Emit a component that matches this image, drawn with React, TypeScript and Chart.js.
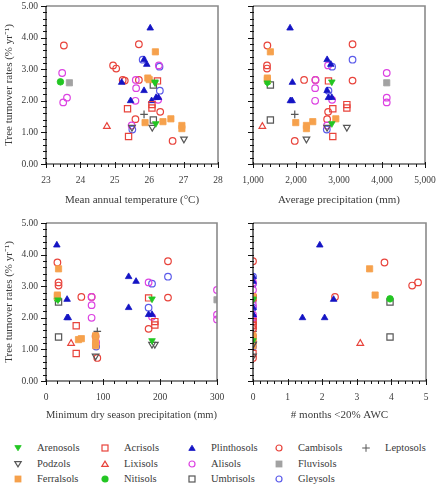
import { useEffect, useRef } from "react";
import { Chart, registerables } from "chart.js";

Chart.register(...registerables);

// Soil groups, in legend order (read down each legend column)
const SOIL_TYPES = [
  "Arenosols", "Podzols", "Ferralsols",
  "Acrisols", "Lixisols", "Nitisols",
  "Plinthosols", "Alisols", "Umbrisols",
  "Cambisols", "Fluvisols", "Gleysols",
  "Leptosols",
];

// One entry per plot: soil group, turnover rate and the four site descriptors
const siteSoil = [
  "Arenosols", "Arenosols", "Arenosols",
  "Podzols", "Podzols", "Podzols",
  "Ferralsols", "Ferralsols", "Ferralsols", "Ferralsols", "Ferralsols", "Ferralsols", "Ferralsols", "Ferralsols",
  "Acrisols", "Acrisols", "Acrisols", "Acrisols", "Acrisols",
  "Lixisols",
  "Nitisols",
  "Plinthosols", "Plinthosols", "Plinthosols", "Plinthosols", "Plinthosols", "Plinthosols", "Plinthosols", "Plinthosols", "Plinthosols",
  "Alisols", "Alisols", "Alisols", "Alisols", "Alisols", "Alisols", "Alisols", "Alisols", "Alisols",
  "Umbrisols", "Umbrisols",
  "Cambisols", "Cambisols", "Cambisols", "Cambisols", "Cambisols", "Cambisols", "Cambisols", "Cambisols", "Cambisols", "Cambisols",
  "Fluvisols",
  "Gleysols", "Gleysols", "Gleysols", "Gleysols",
  "Leptosols",
];

const turnoverRate = [
  2.60, 1.28, 2.57,
  1.16, 0.79, 1.16,
  3.55, 2.72, 2.67, 1.31, 1.34, 1.43, 1.22, 1.12,
  1.75, 0.87, 1.88, 1.77, 2.63,
  1.19,
  2.60,
  4.30, 3.30, 3.15, 2.58, 2.32, 2.00, 2.00, 2.10, 2.10,
  2.88, 2.10, 1.95, 2.40, 2.00, 3.12, 2.03, 1.22, 2.66,
  2.50, 1.39,
  3.75, 3.12, 3.02, 3.79, 2.66, 2.64, 2.66, 1.65, 1.42, 0.73,
  2.57,
  3.30, 3.08, 2.32, 1.09,
  1.57,
];

const meanAnnualTemp = [
  26.17, 26.19, 26.17,
  26.09, 27.01, 25.50,
  26.18, 25.96, 26.00, 25.88, 26.40, 26.63, 26.95, 26.95,
  25.37, 25.40, 26.08, 26.08, 26.24,
  24.77,
  23.42,
  26.03, 25.85, 25.93, 25.20, 25.85, 25.46, 26.07, 26.20, 26.27,
  23.47, 23.61, 23.50, 25.62, 25.60, 26.28, 26.26, 25.49, 25.61,
  26.12, 26.12,
  23.52, 24.95, 25.04, 25.70, 25.23, 25.29, 25.70, 26.32, 25.60, 26.68,
  23.68,
  25.81, 26.30, 26.31, 25.51,
  25.85,
];

const averagePrecip = [
  2833, 2833, 1334,
  3183, 2243, 2724,
  1404, 1334, 1334, 1994, 2390, 2926, 2243, 2243,
  2856, 2856, 3183, 3183, 2755,
  1217,
  1340,
  1862, 2724, 2810, 1916, 2724, 1870, 1909, 2755, 2833,
  4110, 4110, 4110, 2445, 2445, 2745, 2840, 2724, 2452,
  1404, 1404,
  1334, 1326, 1326, 3315, 2188, 3315, 2452, 2747, 2724, 1971,
  4110,
  3315, 2840, 2755, 2716,
  1971,
];

const minDryPrecip = [
  186, 186, 21,
  191, 87, 186,
  22, 20, 20, 57, 62, 87, 87, 87,
  53, 53, 191, 191, 180,
  44,
  20,
  19, 145, 158, 37, 145, 37, 39, 180, 186,
  300, 300, 300, 80, 80, 180, 186, 88, 80,
  22, 22,
  20, 22, 22, 214, 62, 214, 80, 180, 87, 90,
  300,
  214, 186, 180, 88,
  90,
];

const monthsLowAwc = [
  0, 0, 0,
  0, 0, 0,
  3.37, 3.53, 0, 0, 0, 0, 0, 0,
  0, 0, 0, 0, 0,
  3.10,
  3.96,
  1.93, 0, 0, 2.33, 0, 1.43, 2.07, 0, 0,
  0, 0, 0, 0, 0, 0, 0, 0, 0,
  3.96, 3.96,
  3.80, 4.77, 4.60, 0, 2.37, 0, 0, 0, 0, 0,
  0,
  0, 0, 0, 0,
  0,
];

// Axis ticks
const rateTicks = [0, 1, 2, 3, 4, 5];
const tempTicks = [23, 24, 25, 26, 27, 28];
const precipTicks = [1000, 2000, 3000, 4000, 5000];
const dryTicks = [0, 100, 200, 300];
const monthTicks = [0, 1, 2, 3, 4, 5];

const SERIF = "'Liberation Serif', 'Times New Roman', serif";
const TEXT = "#3a3a3a";

const RED = "#e8433b";
const MAGENTA = "#dc42e2";
const VIOLET = "#5b5bea";
const BLUE = "#1414c4";
const ORANGE = "#f6a14c";
const GREEN = "#22c622";
const LIGHT_GREY = "#a2a2a2";
const DARK_GREY = "#575757";

type Shape = "circle" | "rect" | "triangle" | "cross";
type MarkerStyle = { color: string; shape: Shape; filled: boolean; down?: boolean };

const soilStyle: Record<string, MarkerStyle> = {
  Arenosols: { color: GREEN, shape: "triangle", filled: true, down: true },
  Podzols: { color: DARK_GREY, shape: "triangle", filled: false, down: true },
  Ferralsols: { color: ORANGE, shape: "rect", filled: true },
  Acrisols: { color: RED, shape: "rect", filled: false },
  Lixisols: { color: RED, shape: "triangle", filled: false },
  Nitisols: { color: GREEN, shape: "circle", filled: true },
  Plinthosols: { color: BLUE, shape: "triangle", filled: true },
  Alisols: { color: MAGENTA, shape: "circle", filled: false },
  Umbrisols: { color: DARK_GREY, shape: "rect", filled: false },
  Cambisols: { color: RED, shape: "circle", filled: false },
  Fluvisols: { color: LIGHT_GREY, shape: "rect", filled: true },
  Gleysols: { color: VIOLET, shape: "circle", filled: false },
  Leptosols: { color: DARK_GREY, shape: "cross", filled: false },
};

const radiusFor: Record<Shape, number> = { circle: 3.3, rect: 4.4, triangle: 3.8, cross: 3.8 };

// Frame on top/right, black axes on left/bottom, major and minor tick marks
const axisFrame = {
  id: "axisFrame",
  afterDraw(chart: any, _args: any, opts: any) {
    const { ctx, chartArea } = chart;
    const { left, right, top, bottom } = chartArea;
    const xs = chart.scales.x;
    const ys = chart.scales.y;
    ctx.save();
    ctx.strokeStyle = "#8a8a8a";
    ctx.lineWidth = 1.6;
    ctx.beginPath();
    ctx.moveTo(left, top);
    ctx.lineTo(right, top);
    ctx.lineTo(right, bottom);
    ctx.stroke();

    ctx.strokeStyle = "#111";
    ctx.lineWidth = 1.2;
    ctx.beginPath();
    ctx.moveTo(left, top);
    ctx.lineTo(left, bottom);
    ctx.lineTo(right, bottom);
    ctx.stroke();

    ctx.lineWidth = 1;
    const isMajor = (v: number, list: number[]) => list.some((m) => Math.abs(m - v) < 1e-6);
    ctx.beginPath();
    const xMajor: number[] = opts.xMajor;
    const nx = Math.round((xs.max - xs.min) / opts.xMinor);
    for (let i = 0; i <= nx; i++) {
      const v = xs.min + i * opts.xMinor;
      const px = Math.round(xs.getPixelForValue(v)) + 0.5;
      if (isMajor(v, xMajor)) {
        ctx.moveTo(px, bottom - 2);
        ctx.lineTo(px, bottom + 4);
      } else {
        ctx.moveTo(px, bottom);
        ctx.lineTo(px, bottom + 3);
      }
    }
    const yMajor: number[] = opts.yMajor;
    const ny = Math.round((ys.max - ys.min) / opts.yMinor);
    for (let i = 0; i <= ny; i++) {
      const v = ys.min + i * opts.yMinor;
      const py = Math.round(ys.getPixelForValue(v)) + 0.5;
      if (isMajor(v, yMajor)) {
        ctx.moveTo(left - 5, py);
        ctx.lineTo(left + 1, py);
      } else {
        ctx.moveTo(left - 3, py);
        ctx.lineTo(left + 1, py);
      }
    }
    ctx.stroke();
    ctx.restore();
  },
};

type Box = { left: number; top: number; width: number; height: number };
type Plot = { left: number; top: number; right: number; bottom: number };

type PanelProps = {
  box: Box;
  plot: Plot;
  xs: number[];
  xMin: number;
  xMax: number;
  xTicks: number[];
  xMinor: number;
  xFormat: (v: number) => string;
  xTitle: string;
  yLabels: boolean;
};

function Panel({ box, plot, xs, xMin, xMax, xTicks, xMinor, xFormat, xTitle, yLabels }: PanelProps) {
  const ref = useRef<HTMLCanvasElement | null>(null);

  useEffect(() => {
    if (!ref.current) return;
    const datasets = SOIL_TYPES.map((soil) => {
      const st = soilStyle[soil];
      const data: { x: number; y: number }[] = [];
      siteSoil.forEach((s, i) => {
        if (s === soil) data.push({ x: xs[i], y: turnoverRate[i] });
      });
      return {
        label: soil,
        data,
        pointStyle: st.shape,
        pointRotation: st.down ? 180 : 0,
        pointRadius: radiusFor[st.shape],
        borderColor: st.color,
        backgroundColor: st.filled ? st.color : "rgba(0,0,0,0)",
        borderWidth: st.filled ? 0.8 : 1.2,
        showLine: false,
      };
    });

    const tickFont = { family: SERIF, size: 9.5 };
    const titleFont = { family: SERIF, size: 11 };

    const chart = new Chart(ref.current, {
      type: "scatter",
      data: { datasets },
      plugins: [axisFrame],
      options: {
        animation: false,
        responsive: false,
        maintainAspectRatio: false,
        layout: {
          padding: {
            top: plot.top - box.top,
            right: box.left + box.width - plot.right,
            left: 0,
            bottom: 0,
          },
        },
        plugins: {
          legend: { display: false },
          tooltip: { enabled: false },
          axisFrame: { xMajor: xTicks, xMinor, yMajor: rateTicks, yMinor: 0.2 },
        } as any,
        scales: {
          x: {
            type: "linear",
            min: xMin,
            max: xMax,
            afterBuildTicks: (s: any) => {
              s.ticks = xTicks.map((v) => ({ value: v }));
            },
            afterFit: (s: any) => {
              s.height = box.top + box.height - plot.bottom;
              s.paddingLeft = 0;
              s.paddingRight = 0;
            },
            grid: { display: false, drawTicks: false },
            border: { display: false },
            ticks: {
              padding: 11,
              font: tickFont,
              color: TEXT,
              maxRotation: 0,
              autoSkip: false,
              callback: (v: any) => xFormat(Number(v)),
            },
            title: {
              display: true,
              text: xTitle,
              font: titleFont,
              color: TEXT,
              padding: { top: 0, bottom: 3 },
            },
          },
          y: {
            type: "linear",
            min: 0,
            max: 5,
            afterBuildTicks: (s: any) => {
              s.ticks = rateTicks.map((v) => ({ value: v }));
            },
            afterFit: (s: any) => {
              s.width = plot.left - box.left;
              s.paddingTop = 0;
              s.paddingBottom = 0;
            },
            grid: { display: false, drawTicks: false },
            border: { display: false },
            ticks: {
              display: yLabels,
              padding: 8,
              font: tickFont,
              color: TEXT,
              callback: (v: any) => Number(v).toFixed(2),
            },
            title: {
              display: yLabels,
              text: "Tree turnover rates (% yr\u207B\u00B9)",
              font: titleFont,
              color: TEXT,
              padding: { top: 3, bottom: 0 },
            },
          },
        },
      } as any,
    });
    return () => chart.destroy();
  }, []);

  return (
    <canvas
      ref={ref}
      width={box.width}
      height={box.height}
      style={{ position: "absolute", left: box.left, top: box.top, width: box.width, height: box.height }}
    />
  );
}

function Marker({ style }: { style: MarkerStyle }) {
  const { color, shape, filled, down } = style;
  const fill = filled ? color : "none";
  let el;
  if (shape === "circle") el = <circle cx={5} cy={5} r={3} fill={fill} stroke={color} strokeWidth={1.2} />;
  else if (shape === "rect") el = <rect x={2} y={2} width={6} height={6} fill={fill} stroke={color} strokeWidth={filled ? 0.8 : 1.2} />;
  else if (shape === "triangle")
    el = down ? (
      <polygon points="1.8,2.6 8.2,2.6 5,7.8" fill={fill} stroke={color} strokeWidth={filled ? 0.8 : 1.2} />
    ) : (
      <polygon points="1.8,7.4 8.2,7.4 5,2.2" fill={fill} stroke={color} strokeWidth={filled ? 0.8 : 1.2} />
    );
  else
    el = (
      <path d="M5 1.2 V8.8 M1.2 5 H8.8" stroke={color} strokeWidth={1} fill="none" />
    );
  return (
    <svg width={10} height={10} style={{ position: "absolute", left: -5, top: -5 }}>
      {el}
    </svg>
  );
}

function Legend() {
  const colX = [18, 105, 192, 279, 366];
  const rowY = [448, 464, 479];
  return (
    <>
      {SOIL_TYPES.map((soil, i) => {
        const col = Math.floor(i / 3);
        const row = i % 3;
        const x = colX[col];
        const y = rowY[row];
        return (
          <div key={soil}>
            <div style={{ position: "absolute", left: x, top: y }}>
              <Marker style={soilStyle[soil]} />
            </div>
            <div
              style={{
                position: "absolute",
                left: x + 19,
                top: y - 8,
                height: 16,
                lineHeight: "16px",
                fontFamily: SERIF,
                fontSize: 10.5,
                color: TEXT,
                whiteSpace: "nowrap",
              }}
            >
              {soil}
            </div>
          </div>
        );
      })}
    </>
  );
}

const fmtInt = (v: number) => String(v);
const fmtThousands = (v: number) => v.toLocaleString("en-US");

export default function App() {
  return (
    <div style={{ position: "absolute", left: 0, top: 0, width: 439, height: 493, background: "#fff", overflow: "hidden" }}>
      <Panel
        box={{ left: 0, top: 0, width: 225, height: 210 }}
        plot={{ left: 46, top: 6, right: 218, bottom: 164 }}
        xs={meanAnnualTemp}
        xMin={23}
        xMax={28}
        xTicks={tempTicks}
        xMinor={0.2}
        xFormat={fmtInt}
        xTitle={"Mean annual temperature (\u00B0C)"}
        yLabels={true}
      />
      <Panel
        box={{ left: 225, top: 0, width: 214, height: 210 }}
        plot={{ left: 253, top: 6, right: 425, bottom: 164 }}
        xs={averagePrecip}
        xMin={1000}
        xMax={5000}
        xTicks={precipTicks}
        xMinor={200}
        xFormat={fmtThousands}
        xTitle="Average precipitation (mm)"
        yLabels={false}
      />
      <Panel
        box={{ left: 0, top: 210, width: 225, height: 215 }}
        plot={{ left: 46, top: 223, right: 217, bottom: 381 }}
        xs={minDryPrecip}
        xMin={0}
        xMax={300}
        xTicks={dryTicks}
        xMinor={20}
        xFormat={fmtInt}
        xTitle="Minimum dry season precipitation (mm)"
        yLabels={true}
      />
      <Panel
        box={{ left: 225, top: 210, width: 214, height: 215 }}
        plot={{ left: 253, top: 223, right: 426, bottom: 381 }}
        xs={monthsLowAwc}
        xMin={0}
        xMax={5}
        xTicks={monthTicks}
        xMinor={0.2}
        xFormat={fmtInt}
        xTitle="# months <20% AWC"
        yLabels={false}
      />
      <Legend />
    </div>
  );
}
